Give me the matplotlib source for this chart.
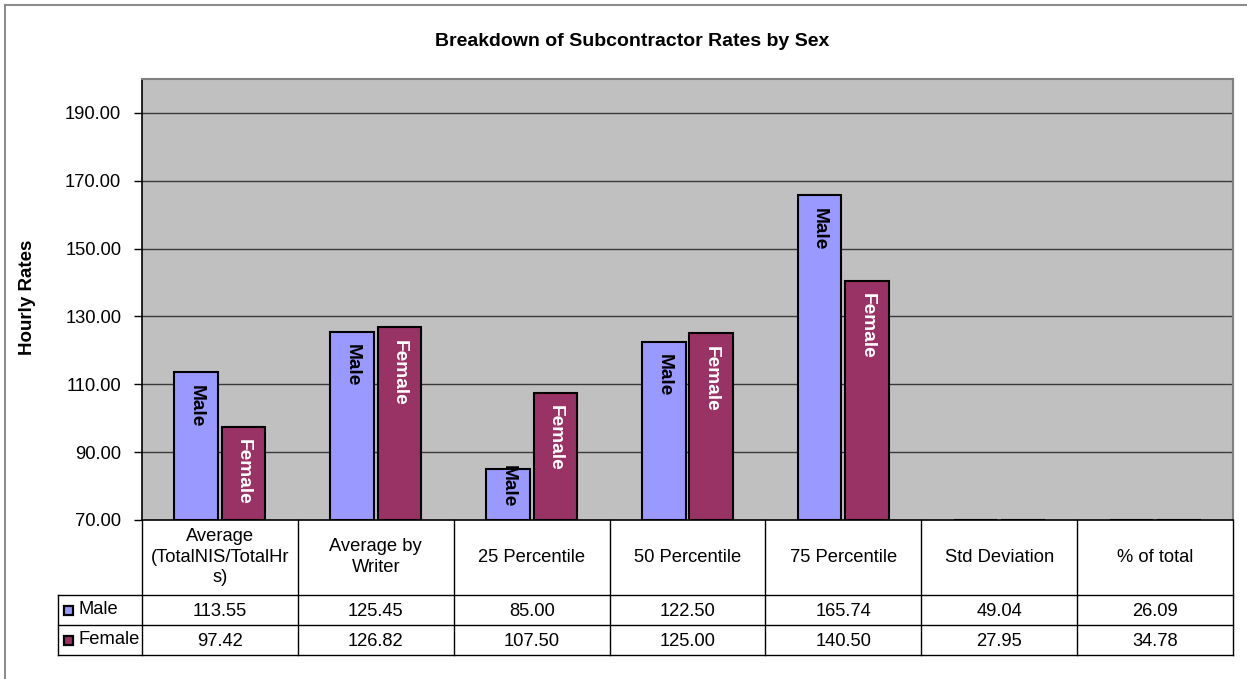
import matplotlib
matplotlib.use("Agg")
import matplotlib.pyplot as plt
from matplotlib.patches import Rectangle
from matplotlib.lines import Line2D

plt.rcParams['font.family'] = ['Liberation Sans', 'DejaVu Sans']

categories = ["Average\n(TotalNIS/TotalHr\ns)", "Average by\nWriter", "25 Percentile",
              "50 Percentile", "75 Percentile", "Std Deviation", "% of total"]
male = [113.55, 125.45, 85.00, 122.50, 165.74, 49.04, 26.09]
female = [97.42, 126.82, 107.50, 125.00, 140.50, 27.95, 34.78]
series_names = ["Male", "Female"]
yticks = [70, 90, 110, 130, 150, 170, 190]

male_color = "#9999FF"
female_color = "#993366"
plot_bg = "#C0C0C0"

W, H = 1247, 679
fig = plt.figure(figsize=(W / 100, H / 100), dpi=100)
fig.patch.set_facecolor("white")

def fx(px):
    return px / W

def fy(py):
    return 1 - py / H

# outer chart border
fig.add_artist(Line2D([fx(5), fx(5)], [fy(5), fy(H + 5)], color="#8c8c8c", lw=1.5))
fig.add_artist(Line2D([fx(5), fx(W + 5)], [fy(5), fy(5)], color="#8c8c8c", lw=1.5))

pl, pr, pt, pb = 142, 1233, 79, 520
ax = fig.add_axes([fx(pl), fy(pb), fx(pr) - fx(pl), fy(pt) - fy(pb)])
ax.set_facecolor(plot_bg)
ymin, ymax = 70, 200
ax.set_ylim(ymin, ymax)
ax.set_xlim(-0.5, len(categories) - 0.5)

ax.set_yticks(yticks)
ax.set_yticklabels([f"{v:.2f}" for v in yticks], fontsize=13.2)
ax.tick_params(axis='y', direction='out', length=6, width=1, color='black', pad=9)
ax.tick_params(axis='x', length=0, labelbottom=False)
for v in yticks[1:]:
    ax.axhline(v, color="#3a3a3a", lw=1, zorder=1)

for s in ["top", "right"]:
    ax.spines[s].set_color("#808080")
    ax.spines[s].set_linewidth(1.5)
for s in ["left", "bottom"]:
    ax.spines[s].set_color("black")
    ax.spines[s].set_linewidth(1.2)

bw = 0.28
off = 0.152
fig.canvas.draw()
renderer = fig.canvas.get_renderer()
px_per_unit = (pb - pt) / (ymax - ymin)
for i in range(len(categories)):
    for vals, o, col, name, tcol in [(male, -off, male_color, "Male", "black"),
                                      (female, off, female_color, "Female", "white")]:
        v = vals[i]
        h = max(v - ymin, 0)
        ax.bar(i + o, h, bottom=ymin, width=bw, color=col, edgecolor="black",
               linewidth=1.5, zorder=3)
        if v > ymin:
            t = ax.annotate(name, xy=(i + o, v), xytext=(0, -9), textcoords="offset points",
                            rotation=270, ha="center", va="top", fontsize=13.8,
                            fontweight="bold", color=tcol, zorder=4)
            tlen = t.get_window_extent(renderer).height
            if h * px_per_unit < tlen + 26:
                t.xy = (i + o, ymin)
                t.set_position((0, 9))
                t.set_va("bottom")

fig.text(fx(632), fy(41), "Breakdown of Subcontractor Rates by Sex", ha="center",
         va="center", fontsize=14, fontweight="bold")
fig.text(fx(27), fy(297), "Hourly Rates", ha="center", va="center", rotation=90,
         fontsize=13.5, fontweight="bold")

# data table
tb = 655
tax = fig.add_axes([fx(pl), fy(tb), fx(pr) - fx(pl), fy(pb) - fy(tb)])
tax.set_xlim(-0.5, len(categories) - 0.5)
tax.set_ylim(0, 135)
tax.axis("off")
cat_px = (pr - pl) / len(categories)
legend_left = -0.5 - (pl - 58) / cat_px

lkw = dict(color="black", lw=1, clip_on=False)
for y in [60, 30, 0]:
    tax.plot([legend_left, len(categories) - 0.5], [y, y], **lkw)
tax.plot([legend_left, legend_left], [0, 60], **lkw)
for i in range(len(categories) + 1):
    tax.plot([i - 0.5, i - 0.5], [0, 135], **lkw)

tfs = 13.2
for i, c in enumerate(categories):
    tax.text(i, 98, c, ha="center", va="center", fontsize=tfs, linespacing=1.3)
    tax.text(i, 44, f"{male[i]:.2f}", ha="center", va="center", fontsize=tfs)
    tax.text(i, 14, f"{female[i]:.2f}", ha="center", va="center", fontsize=tfs)

sq = 9 / cat_px
for yc, name, col in [(45, series_names[0], male_color), (15, series_names[1], female_color)]:
    tax.add_patch(Rectangle((legend_left + 6 / cat_px, yc - 4.5), sq, 9,
                            facecolor=col, edgecolor="black", lw=1.6, clip_on=False))
    tax.text(legend_left + 20 / cat_px, yc, name, ha="left", va="center", fontsize=tfs)

fig.savefig("out.png", dpi=100)
